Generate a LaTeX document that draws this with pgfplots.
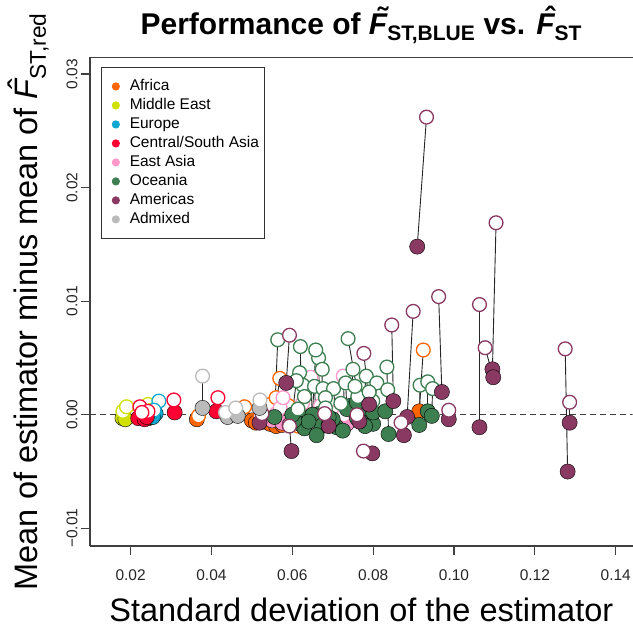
\documentclass[border=0pt]{standalone}
\usepackage{fontspec}
\setmainfont{Liberation Sans}
\usepackage{amsmath}
\usepackage{pgfplots}
\usepackage{pgfplotstable}
\pgfplotsset{compat=1.18}

\definecolor{cAF}{HTML}{FF6600}
\definecolor{cME}{HTML}{D0E000}
\definecolor{cEU}{HTML}{10A8D0}
\definecolor{cCS}{HTML}{FF0033}
\definecolor{cEA}{HTML}{FF99CC}
\definecolor{cOC}{HTML}{3D7F50}
\definecolor{cAM}{HTML}{8A3A62}
\definecolor{cAD}{HTML}{BBBBBB}

% italic F with an accent put over it
\newcommand\accF[1]{{\ooalign{\itshape F\cr\hidewidth\kern0.3em\raisebox{0.2em}{#1}\hidewidth\cr}}}

% xf yf: hat F_ST (filled), xo yo: BLUE (open)
\pgfplotstableread{
xf yf xo yo
0.0364 -0.0004 0.0368 -0.0001
0.0500 -0.0005 0.0482 0.0007
0.0510 -0.0007 0.0520 -0.0002
0.0530 -0.0006 0.0545 0.0009
0.0545 -0.0008 0.0560 0.0015
0.0555 -0.0004 0.0569 0.0032
0.0560 -0.0010 0.0550 -0.0003
0.0575 -0.0009 0.0590 0.0008
0.0630 -0.0004 0.0615 -0.0010
0.0914 0.0003 0.0924 0.0057
}\tabAF
\pgfplotstableread{
xf yf xo yo
0.0180 -0.0003 0.0181 0.0003
0.0187 -0.0004 0.0190 0.0007
0.0245 -0.0003 0.0243 0.0009
0.0250 -0.0002 0.0252 0.0004
}\tabME
\pgfplotstableread{
xf yf xo yo
0.0262 0.0001 0.0270 0.0012
0.0255 -0.0002 0.0258 0.0004
0.0240 -0.0001 0.0238 0.0002
}\tabEU
\pgfplotstableread{
xf yf xo yo
0.0219 -0.0003 0.0223 0.0007
0.0235 -0.0004 0.0243 0.0003
0.0240 -0.0002 0.0228 0.0002
0.0309 0.0002 0.0307 0.0013
0.0412 0.0003 0.0416 0.0015
}\tabCS
\pgfplotstableread{
xf yf xo yo
0.0550 -0.0005 0.0560 0.0001
0.0575 -0.0007 0.0570 0.0006
0.0593 -0.0009 0.0577 0.0015
0.0620 -0.0008 0.0605 0.0001
0.0630 -0.0003 0.0625 0.0010
0.0650 -0.0009 0.0646 0.0033
0.0680 -0.0005 0.0670 0.0008
0.0705 -0.0007 0.0715 0.0004
0.0730 -0.0006 0.0726 0.0034
0.0735 -0.0008 0.0728 0.0000
0.0760 -0.0002 0.0752 0.0002
0.0785 -0.0005 0.0775 -0.0003
}\tabEA
\pgfplotstableread{
xf yf xo yo
0.0556 -0.0002 0.0564 0.0066
0.0622 -0.0002 0.0620 0.0060
0.0668 0.0001 0.0665 0.0050
0.0650 0.0000 0.0658 0.0057
0.0770 0.0002 0.0738 0.0067
0.0620 -0.0008 0.0618 0.0037
0.0672 -0.0010 0.0674 0.0040
0.0630 -0.0012 0.0626 0.0026
0.0660 -0.0018 0.0655 0.0025
0.0690 -0.0009 0.0676 0.0023
0.0710 -0.0011 0.0702 0.0023
0.0640 -0.0006 0.0630 0.0016
0.0700 -0.0004 0.0682 0.0015
0.0605 -0.0005 0.0614 0.0005
0.0690 -0.0002 0.0682 0.0006
0.0745 0.0008 0.0750 0.0040
0.0770 -0.0006 0.0783 0.0034
0.0800 -0.0008 0.0809 0.0028
0.0735 0.0005 0.0732 0.0028
0.0760 -0.0003 0.0762 0.0016
0.0800 0.0002 0.0799 0.0012
0.0838 -0.0017 0.0834 0.0042
0.0830 0.0003 0.0836 0.0022
0.0914 -0.0009 0.0916 0.0026
0.0935 0.0003 0.0935 0.0029
0.0945 -0.0001 0.0947 0.0023
0.0760 0.0011 0.0755 0.0025
0.0600 0.0000 0.0610 0.0030
0.0780 -0.0010 0.0790 0.0020
0.0725 -0.0014 0.0720 0.0010
}\tabOC
\pgfplotstableread{
xf yf xo yo
0.0909 0.0148 0.0932 0.0262
0.1095 0.0040 0.1104 0.0169
0.1097 0.0033 0.1077 0.0059
0.1063 -0.0011 0.1063 0.0097
0.0970 0.0020 0.0962 0.0104
0.0987 -0.0004 0.0987 0.0004
0.1281 -0.0050 0.1275 0.0058
0.1286 -0.0007 0.1286 0.0011
0.0884 -0.0002 0.0899 0.0091
0.0850 0.0012 0.0846 0.0079
0.0876 -0.0018 0.0869 -0.0007
0.0798 -0.0034 0.0776 -0.0032
0.0598 -0.0032 0.0593 -0.0010
0.0585 0.0028 0.0593 0.0070
0.0790 0.0009 0.0777 0.0054
0.0519 -0.0007 0.0525 0.0001
0.0690 -0.0010 0.0680 0.0001
0.0766 -0.0006 0.0760 0.0000
}\tabAM
\pgfplotstableread{
xf yf xo yo
0.0378 0.0006 0.0378 0.0034
0.0440 -0.0002 0.0435 0.0002
0.0465 -0.0001 0.0460 0.0006
0.0519 0.0006 0.0520 0.0013
}\tabAD

\newcommand\segs[1]{\addplot[quiver={u=\thisrow{xo}-\thisrow{xf}, v=\thisrow{yo}-\thisrow{yf}},
  black!85, line width=0.9pt, no markers, forget plot] table[x=xf, y=yf] {#1};}
\newcommand\pts[2]{%
  \addplot[only marks, mark=*, mark size=7.6pt, mark options={draw=none, fill=#2}, forget plot]
    table[x=xf, y=yf] {#1};
  \addplot[only marks, mark=*, mark size=6.9pt, mark options={draw=#2, fill=white, line width=1.3pt}, forget plot]
    table[x=xo, y=yo] {#1};}

\begin{document}
\begin{tikzpicture}
\begin{axis}[
  name=ax,
  scale only axis, width=543pt, height=489pt,
  xmin=0.00995, xmax=0.1442, ymin=-0.01156, ymax=0.03147,
  axis y line=left, axis x line=box,
  axis line style={-, line width=1.1pt, black!75},
  x axis line style={-}, y axis line style={-},
  tick align=outside, tick pos=left, major tick length=9pt,
  tick style={line width=1.1pt, black!75},
  scaled ticks=false,
  xtick={0.02,0.04,0.06,0.08,0.10,0.12,0.14},
  xticklabels={0.02,0.04,0.06,0.08,0.10,0.12,0.14},
  ytick={-0.01,0,0.01,0.02,0.03},
  yticklabels={−0.01,0.00,0.01,0.02,0.03},
  ticklabel style={font=\fontsize{15.5}{18}\selectfont, black!85},
  xticklabel style={yshift=-11pt},
  yticklabel style={rotate=90, anchor=south},
  title={\bfseries Performance of \accF{˜}\textsubscript{ST,BLUE} vs. \accF{ˆ}\textsubscript{ST}},
  title style={at={([yshift=17pt]axis description cs:0.5,1)}, anchor=base, font=\fontsize{30}{34}\selectfont},
  xlabel={Standard deviation of the estimator},
  xlabel style={at={([yshift=-75pt]axis description cs:0.5,0)}, anchor=base, font=\fontsize{32.5}{36}\selectfont},
  ylabel={Mean of estimator minus mean of \accF{ˆ}\textsubscript{ST,red}},
  ylabel style={at={([xshift=-52pt]axis description cs:0,0.5)}, anchor=base, font=\fontsize{32.5}{36}\selectfont},
  legend style={at={([xshift=11pt,yshift=-10pt]axis description cs:0,1)}, anchor=north west,
    draw=black!80, line width=0.9pt, font=\fontsize{15.5}{18}\selectfont,
    inner xsep=4pt, inner ysep=10pt, row sep=1.5pt, column sep=0pt,
    nodes={inner sep=1.5pt, text height=11pt, text depth=3.5pt}},
  legend cell align=left,
  legend image code/.code={\path (0pt,0pt) (22pt,0pt); \fill[#1] (10pt,0pt) circle (3.6pt);},
]
\addlegendimage{cAF}\addlegendentry{Africa}
\addlegendimage{cME}\addlegendentry{Middle East}
\addlegendimage{cEU}\addlegendentry{Europe}
\addlegendimage{cCS}\addlegendentry{Central/South Asia}
\addlegendimage{cEA}\addlegendentry{East Asia}
\addlegendimage{cOC}\addlegendentry{Oceania}
\addlegendimage{cAM}\addlegendentry{Americas}
\addlegendimage{cAD}\addlegendentry{Admixed}

\addplot[black!75, line width=1.2pt, dash pattern=on 6pt off 4pt, forget plot]
  coordinates {(0.00995,0) (0.1442,0)};

\segs{\tabAF}\segs{\tabME}\segs{\tabEU}\segs{\tabCS}
\segs{\tabEA}\segs{\tabOC}\segs{\tabAM}\segs{\tabAD}

\pts{\tabAF}{cAF}
\pts{\tabME}{cME}
\pts{\tabEU}{cEU}
\pts{\tabCS}{cCS}
\pts{\tabEA}{cEA}
\pts{\tabOC}{cOC}
\pts{\tabAM}{cAM}
\pts{\tabAD}{cAD}
\end{axis}
\pgfresetboundingbox
\path[use as bounding box] ([xshift=-90pt,yshift=-88pt]ax.south west) rectangle ([yshift=57.3pt]ax.north east);
\end{tikzpicture}
\end{document}
